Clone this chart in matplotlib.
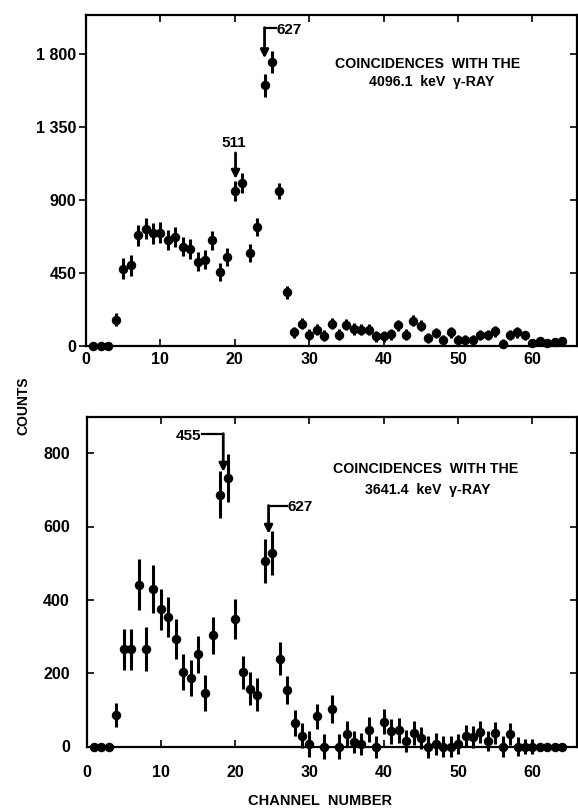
import matplotlib
matplotlib.use("Agg")
import matplotlib.pyplot as plt
import numpy as np

plt.rcParams['font.family'] = ['Liberation Sans', 'DejaVu Sans']
plt.rcParams['font.weight'] = 'bold'

channels = list(range(1, 65))

top_counts = [0, 0, 0, 162, 475, 498, 682, 723, 694, 698, 651, 672, 612, 599, 519, 531,
              651, 457, 548, 954, 1002, 575, 736, 1606, 1751, 956, 331, 84, 137, 69, 100, 63,
              137, 69, 131, 104, 100, 100, 59, 59, 73, 127, 69, 156, 125, 48, 79, 38,
              84, 38, 38, 38, 69, 69, 90, 14, 69, 84, 65, 17, 32, 17, 24, 28]
top_err = [0, 0, 0, 40, 65, 65, 65, 65, 65, 65, 62, 62, 60, 60, 58, 58,
           60, 55, 58, 62, 62, 55, 55, 70, 70, 50, 40, 32, 35, 35, 35, 35,
           35, 35, 35, 35, 35, 35, 33, 33, 33, 35, 33, 35, 35, 30, 32, 30,
           32, 30, 30, 30, 32, 32, 32, 28, 32, 32, 30, 15, 15, 15, 15, 15]

bot_counts = [0, 0, 0, 86, 265, 265, 441, 267, 430, 374, 353, 293, 203, 187, 251, 146,
              303, 687, 732, 347, 203, 157, 141, 505, 529, 239, 153, 64, 30, 7, 82, 0,
              103, 0, 35, 12, 7, 46, 0, 68, 41, 44, 15, 37, 23, 0, 7, 0,
              0, 7, 30, 27, 39, 15, 36, 0, 35, 0, 0, 0, 0, 0, 0, 0]
bot_err = [0, 0, 0, 32, 55, 55, 70, 60, 65, 55, 55, 55, 50, 50, 50, 50,
           50, 65, 65, 55, 45, 45, 45, 60, 60, 45, 38, 35, 35, 35, 35, 35,
           38, 35, 35, 30, 30, 35, 30, 35, 35, 35, 30, 32, 30, 30, 30, 28,
           28, 28, 30, 30, 30, 28, 30, 28, 30, 25, 20, 20, 0, 0, 0, 0]

top_yticks = [0, 450, 900, 1350, 1800]
top_yticklabels = ['0', '450', '900', '1 350', '1 800']
bot_yticks = [0, 200, 400, 600, 800]
xticks = [0, 10, 20, 30, 40, 50, 60]

fig = plt.figure(figsize=(5.78, 8.08), dpi=100)
W, H = 578, 808
ax1 = fig.add_axes([86 / W, 1 - 346 / H, (577 - 86) / W, (346 - 15) / H])
ax2 = fig.add_axes([86.5 / W, 1 - 746.5 / H, (577 - 86.5) / W, (746.5 - 416.5) / H])

def style(ax, counts, err, ylim, yticks, ylabels, xpad, ypad, ydir):
    ax.errorbar(channels, counts, yerr=err, fmt='o', color='black',
                markersize=5.8, elinewidth=2.2, capsize=0, clip_on=False, zorder=3)
    ax.set_xlim(0, 66)
    ax.set_ylim(*ylim)
    ax.set_xticks(xticks)
    ax.set_yticks(yticks)
    ax.set_yticklabels(ylabels)
    ax.tick_params(axis='both', direction='in', length=5, width=1.2, labelsize=11.5,
                   top=True, right=True)
    ax.tick_params(axis='x', pad=xpad)
    ax.tick_params(axis='y', which='both', left=True, direction=ydir, pad=ypad)
    ax.tick_params(axis='y', right=True)
    for lab in ax.get_xticklabels() + ax.get_yticklabels():
        lab.set_fontweight('bold')
    for s in ax.spines.values():
        s.set_linewidth(1.6)

style(ax1, top_counts, top_err, (0, 2040), top_yticks, top_yticklabels, 4, 2, 'out')
style(ax2, bot_counts, bot_err, (0, 900), bot_yticks, [str(v) for v in bot_yticks], 13, 12, 'in')
# right-side ticks always point inward
for ax in (ax1, ax2):
    for t in ax.yaxis.get_major_ticks():
        t.tick2line.set_marker(3 if False else 0)

# annotations
arrow = dict(arrowstyle='-|>', color='black', lw=2.0, mutation_scale=12, shrinkA=0, shrinkB=0)
# top 627
ax1.plot([24.0, 25.5], [1957, 1957], color='black', lw=1.6)
ax1.annotate('', xy=(24.0, 1773), xytext=(24.0, 1962), arrowprops=arrow)
ax1.text(25.6, 1950, '627', fontsize=11, fontweight='bold', ha='left', va='center')
# top 511
ax1.text(19.8, 1250, '511', fontsize=11, fontweight='bold', ha='center', va='center')
ax1.annotate('', xy=(20.1, 1030), xytext=(20.1, 1190), arrowprops=arrow)
# bottom 455
ax2.plot([15.6, 18.4], [851, 851], color='black', lw=1.6)
ax2.annotate('', xy=(18.4, 749), xytext=(18.4, 853), arrowprops=arrow)
ax2.text(15.5, 846, '455', fontsize=11, fontweight='bold', ha='right', va='center')
# bottom 627
ax2.plot([24.5, 27.0], [655, 655], color='black', lw=1.6)
ax2.annotate('', xy=(24.5, 580), xytext=(24.5, 657), arrowprops=arrow)
ax2.text(27.1, 652, '627', fontsize=11, fontweight='bold', ha='left', va='center')

ax1.text(33.5, 1741, 'COINCIDENCES  WITH THE', fontsize=10.2, fontweight='bold', ha='left', va='center')
ax1.text(38.0, 1627, '4096.1  keV  γ-RAY', fontsize=10.2, fontweight='bold', ha='left', va='center')
ax2.text(33.2, 758, 'COINCIDENCES  WITH THE', fontsize=10.2, fontweight='bold', ha='left', va='center')
ax2.text(37.5, 699, '3641.4  keV  γ-RAY', fontsize=10.2, fontweight='bold', ha='left', va='center')

fig.text(23 / W, 1 - 406 / H, 'COUNTS', rotation=90, fontsize=10, fontweight='bold',
         ha='center', va='center')
fig.text(320 / W, 1 - 801 / H, 'CHANNEL  NUMBER', fontsize=10.5, fontweight='bold',
         ha='center', va='center')

fig.savefig('out.png', dpi=100)
